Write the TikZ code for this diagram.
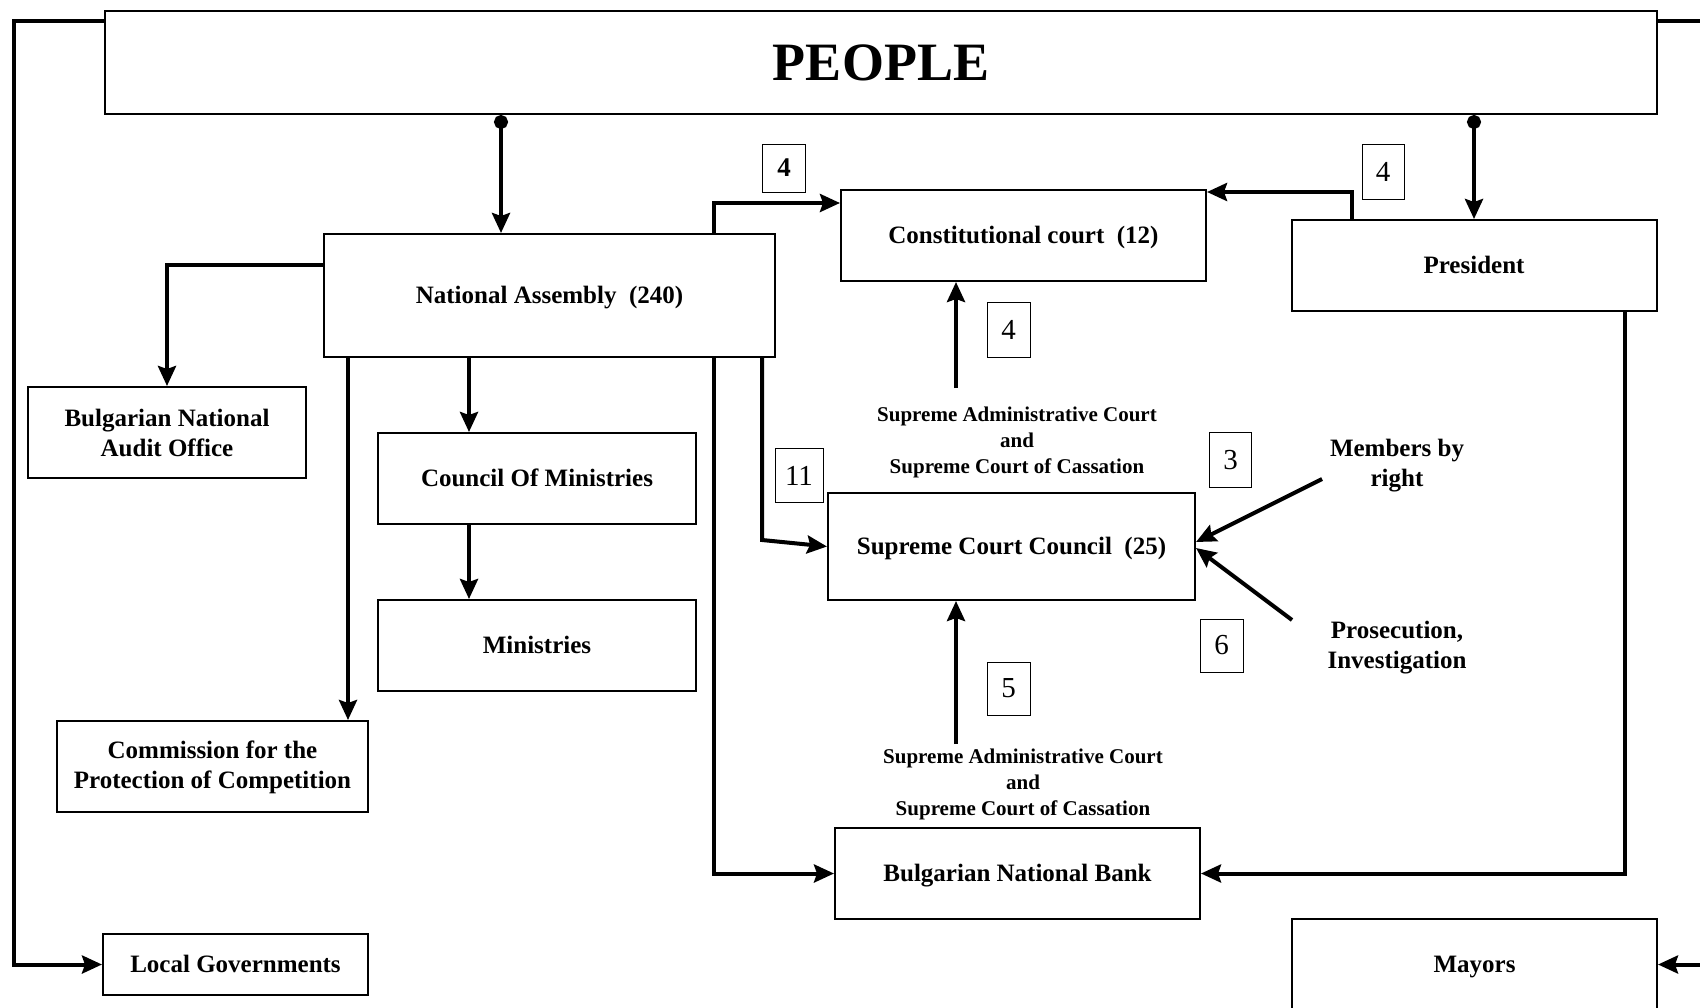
\documentclass[tikz,border=0pt]{standalone}
\usepackage{fontspec}
\setmainfont{Liberation Serif}
\usetikzlibrary{arrows.meta,calc}
\begin{document}
\begin{tikzpicture}[x=1pt,y=-1pt,
  box/.style={draw,line width=2pt,inner sep=0pt,align=center,font=\fontsize{25}{30}\selectfont\bfseries},
  one/.style={text height=18pt,text depth=1.5pt},
  numbox/.style={draw,line width=1pt,inner sep=0pt,font=\fontsize{29}{30}\selectfont},
  lbl/.style={align=center,inner sep=0pt,font=\fontsize{21}{26}\selectfont\bfseries},
  tipend/.style={-{Stealth[length=20pt,width=18pt,inset=3pt]}},
  conn/.style={line width=4pt,line join=miter,tipend},
  dotconn/.style={line width=4pt,{Circle[length=14pt,width=14pt]}-{Stealth[length=20pt,width=18pt,inset=3pt]}},
  plain/.style={line width=4pt}
]
\useasboundingbox (0,0) rectangle (1700,1007);

% helper x positions
\coordinate (lx) at (14,0);
\coordinate (rx) at (1706,0);
\coordinate (c501) at (501,0);
\coordinate (c469) at (469,0);
\coordinate (c348) at (348,0);
\coordinate (c714) at (714,0);
\coordinate (c1352) at (1352,0);
\coordinate (c1625) at (1625,0);
\coordinate (k1) at (762,540);
\coordinate (a1) at (956,388);
\coordinate (a2) at (956,744);
\coordinate (m1) at (1322,479);
\coordinate (p1) at (1292,620);

% main boxes
\node[box,minimum width=1552pt,minimum height=103pt,font=\fontsize{54}{60}\selectfont\bfseries] (people) at (881,62.5) {PEOPLE};
\node[box,one,minimum width=451pt,minimum height=123pt] (na) at (549.5,295.5) {National Assembly\ \ (240)};
\node[box,minimum width=278pt,minimum height=91pt] (audit) at (167,432.5) {Bulgarian National\\Audit Office};
\node[box,one,minimum width=318pt,minimum height=91pt] (com) at (537,478.5) {Council Of Ministries};
\node[box,one,minimum width=318pt,minimum height=91pt] (min) at (537,645.5) {Ministries};
\node[box,minimum width=311pt,minimum height=91pt,text depth=4pt] (comp) at (212.5,766.5) {Commission for the\\Protection of Competition};
\node[box,one,minimum width=265pt,minimum height=61pt] (local) at (235.5,964.5) {Local Governments};
\node[box,one,minimum width=365pt,minimum height=91pt] (cc) at (1023.5,235.5) {Constitutional court\ \ (12)};
\node[box,one,minimum width=365pt,minimum height=91pt] (pres) at (1474,265.5) {President};
\node[box,one,minimum width=367pt,minimum height=107pt] (scc) at (1011.5,546.5) {Supreme Court Council\ \ (25)};
\node[box,one,minimum width=365pt,minimum height=91pt] (bnb) at (1017.5,873.5) {Bulgarian National Bank};
\node[box,one,minimum width=365pt,minimum height=91pt] (mayors) at (1474.5,964.5) {Mayors};

% free labels
\node[lbl] (sup1) at (1017,442.5) {Supreme Administrative Court\\and\\Supreme Court of Cassation};
\node[lbl] (sup2) at (1023,784.5) {Supreme Administrative Court\\and\\Supreme Court of Cassation};
\node[lbl,font=\fontsize{25}{30}\selectfont\bfseries] (members) at (1397,466) {Members by\\right};
\node[lbl,font=\fontsize{25}{30}\selectfont\bfseries] (pros) at (1397,648) {Prosecution,\\Investigation};

% number boxes
\node[numbox,minimum width=43pt,minimum height=48pt,font=\fontsize{27}{30}\selectfont\bfseries] (n4a) at (784,168) {4};
\node[numbox,minimum width=43pt,minimum height=55pt] (n4b) at (1008.5,330) {4};
\node[numbox,minimum width=42pt,minimum height=55pt] (n4c) at (1383,171.5) {4};
\node[numbox,minimum width=48pt,minimum height=54pt] (n11) at (799,475.5) {11};
\node[numbox,minimum width=42pt,minimum height=55pt] (n3) at (1230.5,460) {3};
\node[numbox,minimum width=43pt,minimum height=53pt] (n6) at (1221.5,645.5) {6};
\node[numbox,minimum width=43pt,minimum height=53pt] (n5) at (1008.5,688.5) {5};

% connectors
\draw[dotconn] (people.south -| c501) -- (na.north -| c501);
\draw[dotconn] (people.south -| pres.north) -- (pres.north);
\draw[conn] ([yshift=-11pt]people.north west) -| (local.west -| lx) -- (local.west);
\draw[conn] ([yshift=-11pt]people.north east) -| (mayors.east -| rx) -- (mayors.east);
\draw[conn] ([yshift=-32pt]na.north west) -| (audit.north);
\draw[conn] (na.south -| c469) -- (com.north -| c469);
\draw[conn] (com.south -| c469) -- (min.north -| c469);
\draw[conn] (na.south -| c348) -- (comp.north -| c348);
\draw[conn] (na.south -| c714) |- (bnb.west);
\draw[conn] (na.north -| c714) |- ([yshift=-14pt]cc.north west);
\draw[conn] (na.south -| k1) -- (k1) -- (scc.west);
\draw[conn] (pres.north -| c1352) |- ([yshift=-3pt]cc.north east);
\draw[conn] (a1) -- (a1 |- cc.south);
\draw[conn] (a2) -- (a2 |- scc.south);
\draw[conn] (m1) -- ([yshift=4.5pt]scc.east);
\draw[conn] (p1) -- ([yshift=-1.5pt]scc.east);
\draw[conn] (pres.south -| c1625) |- (bnb.east);
\end{tikzpicture}
\end{document}
